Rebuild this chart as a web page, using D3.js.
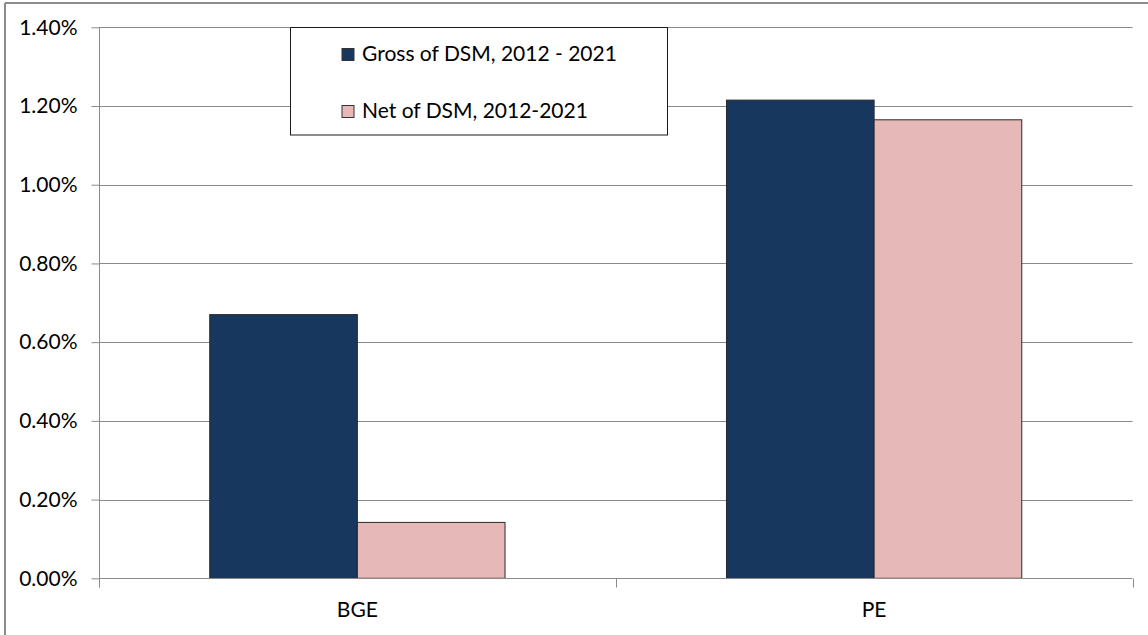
<!DOCTYPE html>
<html>
<head>
<meta charset="utf-8">
<script src="https://cdn.jsdelivr.net/npm/d3@7"></script>
<style>
  html, body { margin: 0; padding: 0; background: #fff; }
  svg { display: block; }
  text { font-family: Lato, "Liberation Sans", sans-serif; fill: #000; }
</style>
</head>
<body>
<svg id="chart" width="1148" height="635"></svg>
<script>
const categories = ["BGE", "PE"];
const seriesNames = ["Gross of DSM, 2012 - 2021", "Net of DSM, 2012-2021"];
const grossValues = [0.0067, 0.01215];
const netValues = [0.00142, 0.01165];
const yTicks = [0, 0.002, 0.004, 0.006, 0.008, 0.010, 0.012, 0.014];
const seriesColors = ["#17375E", "#E6B9B8"];

const seriesValues = [grossValues, netValues];
const data = categories.map((c, i) => ({
  category: c,
  values: seriesNames.map((s, j) => ({ series: s, value: seriesValues[j][i], idx: j }))
}));

const svg = d3.select("#chart");
const W = 1148, H = 635;
const plot = { left: 99, right: 1132.5, top: 27.3, bottom: 578.3 };

// outer border (top & left visible)
svg.append("line").attr("x1", 5).attr("x2", W).attr("y1", 3).attr("y2", 3)
  .attr("stroke", "#8c8c8c").attr("stroke-width", 2);
svg.append("line").attr("x1", 5).attr("x2", 5).attr("y1", 3).attr("y2", H)
  .attr("stroke", "#8c8c8c").attr("stroke-width", 2);

const y = d3.scaleLinear().domain([0, 0.014]).range([plot.bottom, plot.top]);
const x0 = d3.scaleBand().domain(categories).range([plot.left, plot.right]).padding(0);
const x1 = d3.scaleBand().domain(seriesNames).range([0, x0.bandwidth()])
  .paddingInner(0).paddingOuter(0.75);

// gridlines
svg.append("g").selectAll("line").data(yTicks.filter(t => t > 0)).join("line")
  .attr("x1", plot.left).attr("x2", plot.right)
  .attr("y1", d => Math.round(y(d)) + 0.5).attr("y2", d => Math.round(y(d)) + 0.5)
  .attr("stroke", "#8a8a8a").attr("stroke-width", 1);

// bars
const groups = svg.append("g").selectAll("g").data(data).join("g")
  .attr("transform", d => `translate(${x0(d.category)},0)`);
groups.selectAll("rect").data(d => d.values).join("rect")
  .attr("x", d => x1(d.series))
  .attr("y", d => y(d.value))
  .attr("width", x1.bandwidth())
  .attr("height", d => y(0) - y(d.value))
  .attr("fill", d => seriesColors[d.idx])
  .attr("stroke", "#2a2a2a").attr("stroke-width", 1);

// y axis
const yAxis = d3.axisLeft(y).tickValues(yTicks)
  .tickFormat(d => (d * 100).toFixed(2) + "%").tickSize(8).tickPadding(14);
const gy = svg.append("g").attr("transform", `translate(${plot.left + 0.5},0)`).call(yAxis);
gy.select(".domain").attr("stroke", "#8a8a8a").attr("d", `M0,${plot.top}V${plot.bottom + 9}`);
gy.selectAll(".tick line").attr("stroke", "#8a8a8a");
gy.selectAll(".tick text").attr("font-size", 21).attr("font-family", "Lato, 'Liberation Sans', sans-serif").attr("fill", "#000");

// x axis
const xAxis = d3.axisBottom(x0).tickSize(0).tickPadding(0);
const gx = svg.append("g").attr("transform", `translate(0,${Math.round(plot.bottom) + 0.5})`).call(xAxis);
gx.select(".domain").attr("stroke", "#8a8a8a").attr("d", `M${plot.left},0H${plot.right}`);
gx.selectAll(".tick text").attr("font-size", 21).attr("font-family", "Lato, 'Liberation Sans', sans-serif")
  .attr("fill", "#000").attr("dy", null).attr("y", 38.5);
// category boundary ticks
const boundaries = [plot.left, ...categories.map(c => x0(c) + x0.bandwidth())];
gx.append("g").selectAll("line").data(boundaries).join("line")
  .attr("x1", d => Math.round(d) + 0.5).attr("x2", d => Math.round(d) + 0.5)
  .attr("y1", 0).attr("y2", 9).attr("stroke", "#8a8a8a");

// legend
const legend = svg.append("g");
legend.append("rect").attr("x", 290.5).attr("y", 27.5).attr("width", 377).attr("height", 107.5)
  .attr("fill", "#fff").attr("stroke", "#1a1a1a").attr("stroke-width", 1);
const items = legend.selectAll("g.item").data(seriesNames).join("g").attr("class", "item")
  .attr("transform", (d, i) => `translate(342,${48.5 + i * 57})`);
items.append("rect").attr("width", 12).attr("height", 12)
  .attr("fill", (d, i) => seriesColors[i]).attr("stroke", "#333").attr("stroke-width", 1);
items.append("text").attr("x", 20).attr("y", 12.3).attr("font-size", 21).text(d => d);
</script>
</body>
</html>
